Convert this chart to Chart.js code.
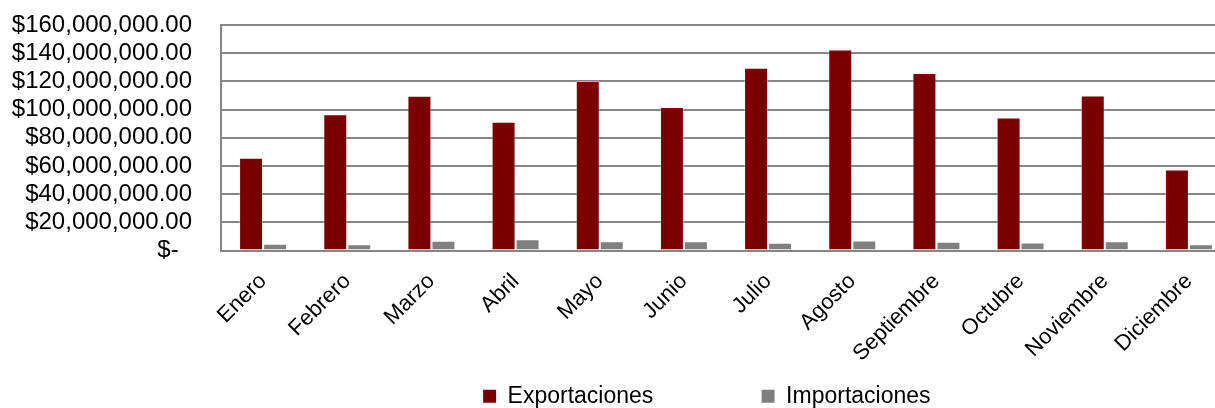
<!DOCTYPE html>
<html lang="es">
<head>
<meta charset="utf-8">
<title>Exportaciones e Importaciones</title>
<script src="https://cdn.jsdelivr.net/npm/chart.js@4.4.1/dist/chart.umd.min.js"></script>
<style>
    html, body {
        margin: 0;
        padding: 0;
        background: #ffffff;
        overflow: hidden;
    }
    #wrap {
        width: 1240px;
        height: 420px;
    }
</style>
</head>
<body>
<div id="wrap">
    <canvas id="bar-chart" width="1240" height="420"></canvas>
</div>
<script>
const meses = ["Enero", "Febrero", "Marzo", "Abril", "Mayo", "Junio", "Julio", "Agosto", "Septiembre", "Octubre", "Noviembre", "Diciembre"]

const exportaciones = [65900000, 96700000, 109800000, 91300000, 120200000, 101900000, 129700000, 142700000, 125900000, 94400000, 110000000, 57600000]

const importaciones = [4800000, 4500000, 6900000, 8000000, 6600000, 6600000, 5500000, 7100000, 6200000, 5700000, 6600000, 4500000]

const yTicks = [0, 20000000, 40000000, 60000000, 80000000, 100000000, 120000000, 140000000, 160000000]

const Utils = {
    formatCurrency(value) {
        if (value === 0) {
            return "$-  "
        }
        return "$" + value.toLocaleString("en-US", {
            minimumFractionDigits: 2,
            maximumFractionDigits: 2
        })
    }
}

const GRID = "#868686"
const FONT = "'Liberation Sans', Arial, sans-serif"

// espacios al final para separar los dos elementos de la leyenda como en Excel
const legendPad = ["                ", "      "]

const ctx = document.getElementById("bar-chart")

const barChart = new Chart(ctx, {
    type: "bar",
    data: {
        labels: meses,
        datasets: [
            {
                label: "Exportaciones",
                data: exportaciones,
                backgroundColor: "#7a0000",
                borderColor: "rgba(255,255,255,0.35)",
                borderWidth: 1
            },
            {
                label: "Importaciones",
                data: importaciones,
                backgroundColor: "#808080",
                borderColor: "rgba(255,255,255,0.35)",
                borderWidth: 1
            }
        ]
    },
    options: {
        responsive: false,
        animation: false,
        devicePixelRatio: 1,
        categoryPercentage: 0.57,
        barPercentage: 1,
        layout: {
            padding: { left: 0, top: 25, right: 9, bottom: 2.2 }
        },
        scales: {
            x: {
                offset: true,
                grid: { display: false, drawTicks: false },
                border: { display: true, color: GRID, width: 2 },
                ticks: {
                    autoSkip: false,
                    minRotation: 45,
                    maxRotation: 45,
                    padding: 18,
                    color: "#000000",
                    font: { family: FONT, size: 22 }
                },
                afterFit(scale) {
                    scale.height = 128.2
                }
            },
            y: {
                min: 0,
                max: 160000000,
                afterBuildTicks(scale) {
                    scale.ticks = yTicks.map((v) => ({ value: v }))
                },
                grid: {
                    color: GRID,
                    lineWidth: 2,
                    drawTicks: true,
                    tickLength: 26,
                    tickColor: "rgba(0,0,0,0)"
                },
                border: { display: true, color: GRID, width: 2 },
                ticks: {
                    autoSkip: false,
                    padding: 3,
                    color: "#000000",
                    font: { family: FONT, size: 24, lineHeight: 1 },
                    callback: (value) => Utils.formatCurrency(value)
                },
                afterFit(scale) {
                    scale.width = 221
                }
            }
        },
        plugins: {
            tooltip: { enabled: false },
            legend: {
                position: "bottom",
                fullSize: false,
                labels: {
                    boxWidth: 13,
                    boxHeight: 13,
                    padding: 6,
                    color: "#000000",
                    font: { family: FONT, size: 23 },
                    generateLabels(chart) {
                        const items = Chart.defaults.plugins.legend.labels.generateLabels(chart)
                        items.forEach((item, index) => {
                            item.text = item.text + legendPad[index]
                            item.lineWidth = 0
                        })
                        return items
                    }
                }
            }
        }
    }
})
</script>
</body>
</html>
